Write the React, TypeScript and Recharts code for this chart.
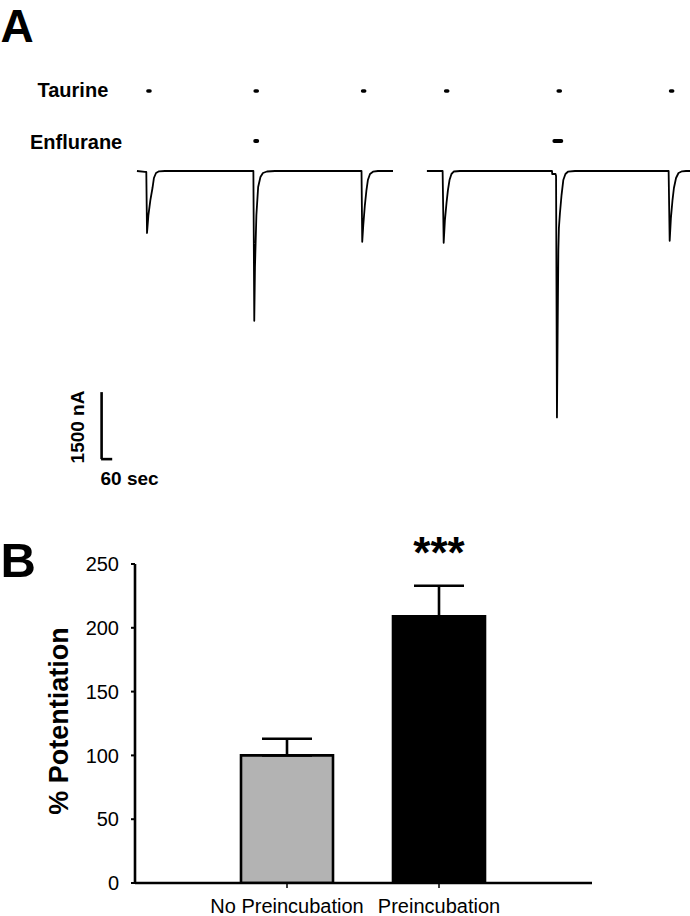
import React from "react";
import {
  LineChart,
  Line,
  XAxis,
  YAxis,
  BarChart,
  Bar,
  Cell,
  ErrorBar,
  LabelList,
  ReferenceLine,
} from "recharts";

// ---------- Panel A: current traces (t in sec, i in nA) ----------
const trace1 = [
  { t: 0, i: 0 }, { t: 45, i: -20 }, { t: 53, i: -20 }, { t: 57, i: -1389 },
  { t: 65, i: -986 }, { t: 76, i: -650 }, { t: 88, i: -381 }, { t: 96, i: -157 },
  { t: 108, i: -45 }, { t: 125, i: -7 }, { t: 158, i: 0 }, { t: 640, i: 0 },
  { t: 659, i: 0 }, { t: 664, i: -3353 }, { t: 668, i: -2150 }, { t: 676, i: -986 },
  { t: 686, i: -358 }, { t: 699, i: -134 }, { t: 713, i: -45 }, { t: 736, i: -11 },
  { t: 781, i: 0 }, { t: 1262, i: 0 }, { t: 1271, i: 0 }, { t: 1275, i: -1584 },
  { t: 1281, i: -1210 }, { t: 1290, i: -762 }, { t: 1299, i: -426 }, { t: 1307, i: -202 },
  { t: 1319, i: -67 }, { t: 1336, i: -16 }, { t: 1364, i: 0 }, { t: 1449, i: 0 },
];

const trace2 = [
  { t: 1641, i: 0 }, { t: 1730, i: 0 }, { t: 1736, i: -1606 }, { t: 1743, i: -1098 },
  { t: 1752, i: -717 }, { t: 1760, i: -426 }, { t: 1769, i: -202 }, { t: 1780, i: -67 },
  { t: 1794, i: -11 }, { t: 1828, i: 0 }, { t: 2343, i: 0 }, { t: 2349, i: 0 },
  { t: 2350, i: -67 }, { t: 2369, i: -67 }, { t: 2372, i: -110 }, { t: 2377, i: -5517 },
  { t: 2381, i: -3562 }, { t: 2385, i: -1770 }, { t: 2388, i: -1277 }, { t: 2394, i: -941 },
  { t: 2403, i: -538 }, { t: 2413, i: -202 }, { t: 2425, i: -67 }, { t: 2439, i: -16 },
  { t: 2479, i: 0 }, { t: 3005, i: 0 }, { t: 3009, i: 0 }, { t: 3015, i: -1561 },
  { t: 3022, i: -1053 }, { t: 3031, i: -650 }, { t: 3039, i: -381 }, { t: 3051, i: -157 },
  { t: 3065, i: -45 }, { t: 3085, i: -7 }, { t: 3107, i: 0 }, { t: 3130, i: 0 },
];

// application marks (start/end times in sec)
const taurineRow = 1792;
const enfluraneRow = 672;
const taurineMarks = [
  [62, 74], [669, 681], [1277, 1289], [1747, 1759], [2384, 2396], [3020, 3032],
];
const enfluraneMarks = [
  [669, 681], [2362, 2402],
];

const toRow = (marks: number[][], y: number) => {
  const out: { t: number; i: number | null }[] = [];
  marks.forEach(([a, b]) => {
    out.push({ t: a, i: y });
    out.push({ t: b, i: y });
    out.push({ t: b + 1, i: null });
  });
  return out;
};
const taurineData = toRow(taurineMarks, taurineRow);
const enfluraneData = toRow(enfluraneMarks, enfluraneRow);

// scale bar: 1500 nA, 60 sec
const scaleT0 = -200;
const scaleI0 = -6450;
const scaleAmp = 1500;
const scaleSec = 60;

// ---------- Panel B: % potentiation ----------
const groups = ["No Preincubation", "Preincubation"];
const potentiation = [100, 209];
const sem = [13, 24];
const significance = ["", "***"];
const barColors = ["#b3b3b3", "#000000"];
const yTicks = [0, 50, 100, 150, 200, 250];

const barData = groups.map((g, k) => ({
  name: g,
  value: potentiation[k],
  err: [0, sem[k]],
  sig: significance[k],
}));

const FONT = "'Liberation Sans', Arial, Helvetica, sans-serif";

export default function App() {
  return (
    <div style={{ position: "absolute", top: 0, left: 0, width: 690, height: 916, background: "#fff", fontFamily: FONT }}>
      <div style={{ position: "absolute", top: 0, left: 0 }}>
        <LineChart width={690} height={500} margin={{ top: 0, right: 0, bottom: 0, left: 0 }}>
          <XAxis type="number" dataKey="t" domain={[-775, 3130]} allowDataOverflow hide />
          <YAxis type="number" dataKey="i" domain={[-7365, 3828]} allowDataOverflow hide />
          <Line data={trace1} dataKey="i" stroke="#000" strokeWidth={1.8} strokeLinejoin="round" dot={false} activeDot={false} isAnimationActive={false} type="linear" />
          <Line data={trace2} dataKey="i" stroke="#000" strokeWidth={1.8} strokeLinejoin="round" dot={false} activeDot={false} isAnimationActive={false} type="linear" />
          <Line data={taurineData} dataKey="i" stroke="#000" strokeWidth={3.5} strokeLinecap="round" dot={false} activeDot={false} connectNulls={false} isAnimationActive={false} type="linear" />
          <Line data={enfluraneData} dataKey="i" stroke="#000" strokeWidth={3.8} strokeLinecap="round" dot={false} activeDot={false} connectNulls={false} isAnimationActive={false} type="linear" />
          <ReferenceLine
            segment={[{ x: scaleT0, y: scaleI0 + scaleAmp }, { x: scaleT0, y: scaleI0 }]}
            stroke="#000"
            strokeWidth={2.6}
            ifOverflow="visible"
          />
          <ReferenceLine
            segment={[{ x: scaleT0 - 3, y: scaleI0 }, { x: scaleT0 + scaleSec, y: scaleI0 }]}
            stroke="#000"
            strokeWidth={2.6}
            ifOverflow="visible"
          />
          <text x={0.5} y={42} fontFamily={FONT} fontWeight="bold" fontSize={46} fill="#000">A</text>
          <text x={37.5} y={97} fontFamily={FONT} fontWeight="bold" fontSize={20} fill="#000">Taurine</text>
          <text x={30} y={148.5} fontFamily={FONT} fontWeight="bold" fontSize={20} fill="#000">Enflurane</text>
          <text x={0} y={0} transform="translate(84,427) rotate(-90)" textAnchor="middle" fontFamily={FONT} fontWeight="bold" fontSize={19} fill="#000">1500 nA</text>
          <text x={100.5} y={485} fontFamily={FONT} fontWeight="bold" fontSize={19} fill="#000">60 sec</text>
        </LineChart>
      </div>
      <div style={{ position: "absolute", top: 500, left: 0 }}>
        <BarChart width={690} height={416} data={barData} margin={{ top: 64, right: 98, bottom: 0, left: 0 }}>
          <XAxis
            dataKey="name"
            padding={{ left: 76, right: 77 }}
            height={33}
            tickSize={5}
            tickMargin={11}
            axisLine={{ stroke: "#000", strokeWidth: 2.6 }}
            tickLine={{ stroke: "#000", strokeWidth: 1.5 }}
            tick={{ fill: "#000", fontSize: 20, fontFamily: FONT }}
            interval={0}
          />
          <YAxis
            domain={[0, 250]}
            ticks={yTicks}
            width={135}
            tickSize={4}
            tickMargin={12}
            axisLine={{ stroke: "#000", strokeWidth: 2.6 }}
            tickLine={{ stroke: "#000", strokeWidth: 2 }}
            tick={{ fill: "#000", fontSize: 20, fontFamily: FONT }}
            allowDataOverflow
          />
          <Bar dataKey="value" barSize={92} stroke="#000" strokeWidth={2.6} isAnimationActive={false}>
            {barData.map((d, k) => (
              <Cell key={d.name} fill={barColors[k]} />
            ))}
            <ErrorBar dataKey="err" width={25} stroke="#000" strokeWidth={2.6} direction="y" />
            <LabelList dataKey="sig" position="top" offset={48} fill="#000" fontSize={44} fontWeight="bold" fontFamily={FONT} />
          </Bar>
          <text x={0.5} y={77} fontFamily={FONT} fontWeight="bold" fontSize={49} fill="#000">B</text>
          <text x={0} y={0} transform="translate(68,221) rotate(-90)" textAnchor="middle" fontFamily={FONT} fontWeight="bold" fontSize={27} fill="#000">% Potentiation</text>
        </BarChart>
      </div>
    </div>
  );
}
